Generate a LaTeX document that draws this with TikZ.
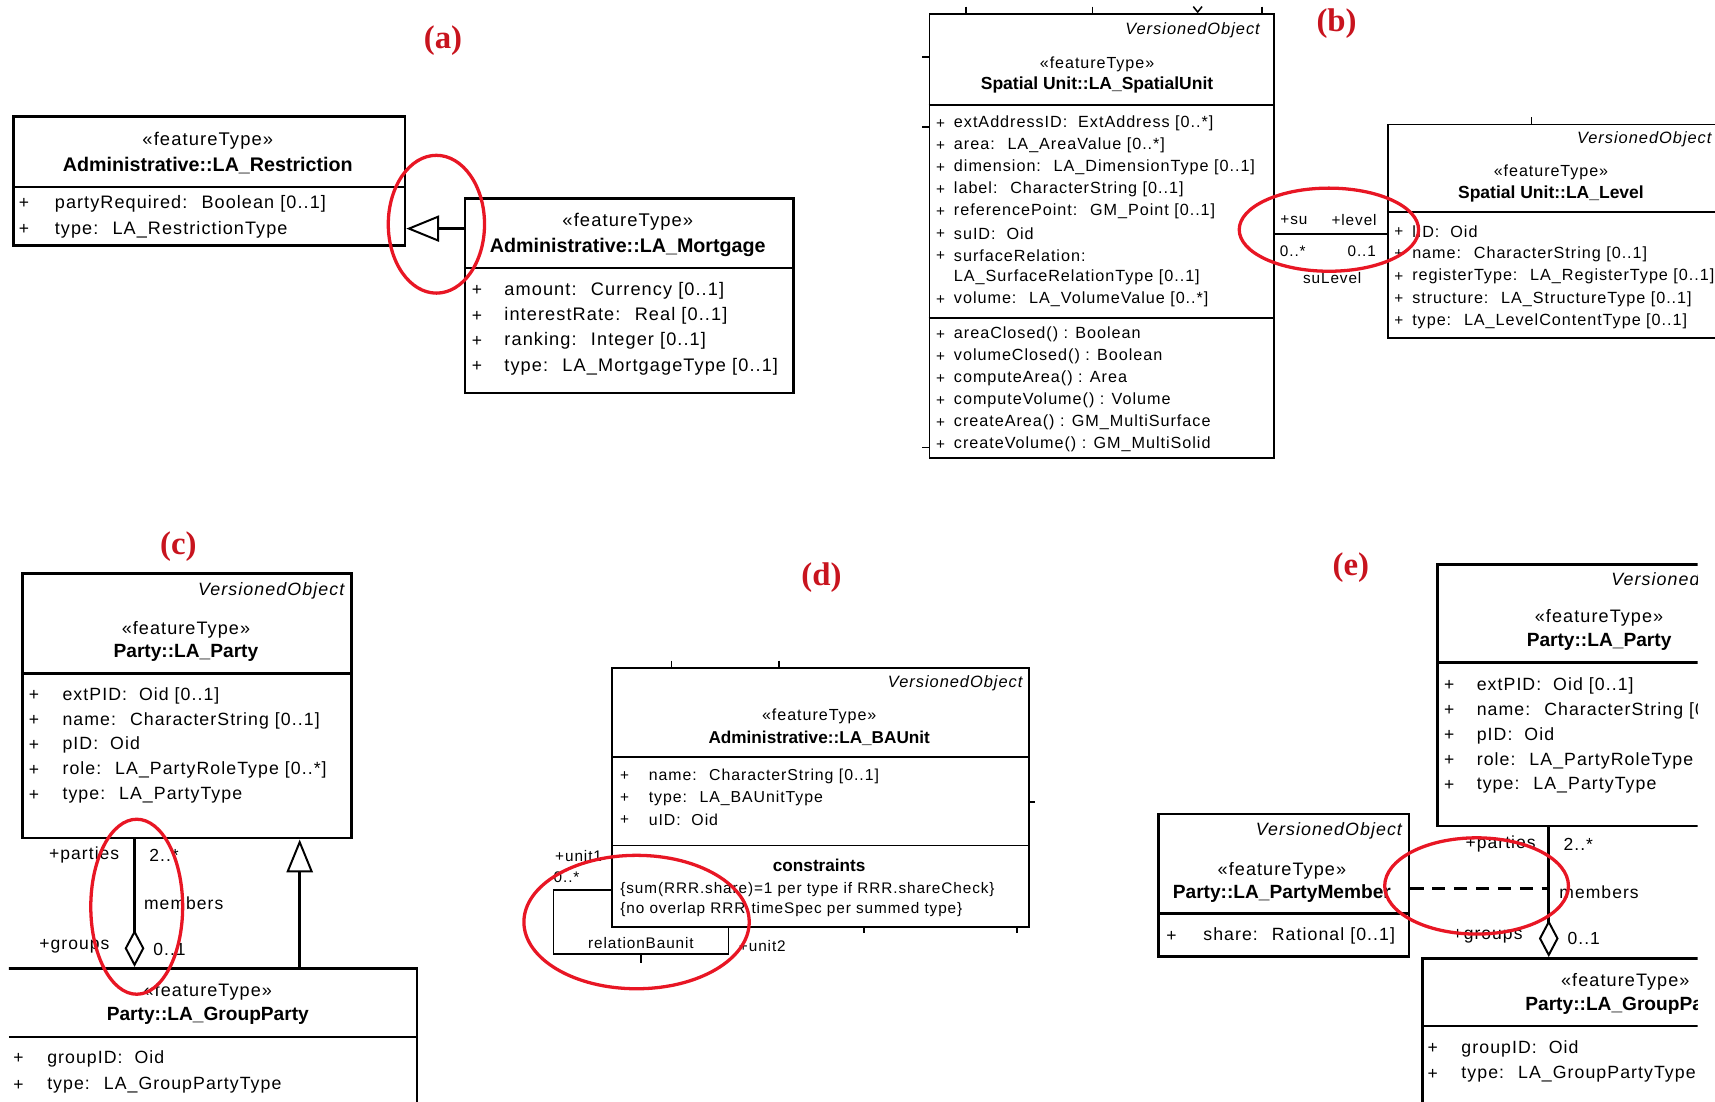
\documentclass[tikz,border=0pt]{standalone}
\usepackage{fontspec}
\setmainfont{Liberation Sans}
\newfontfamily\umlfont[LetterSpace=6]{Liberation Sans}
\newfontfamily\tagfont{Liberation Serif}
\usetikzlibrary{arrows.meta}
\definecolor{tagred}{RGB}{200,20,30}
\definecolor{ringred}{RGB}{232,22,36}

\begin{document}
\begin{tikzpicture}[x=1pt, y=-1pt,
  box/.style={draw, line width=2.5pt, anchor=north west, inner sep=0pt},
  thinbox/.style={box, line width=1.6pt},
  divline/.style={line width=2.5pt},
  thindiv/.style={line width=1.6pt},
  stub/.style={line width=1.4pt},
  plus/.style={inner sep=0pt, font=\umlfont\fontsize{#1}{#1}\selectfont}, plus/.default=16,
  attr/.style={anchor=west, inner sep=0pt, font=\umlfont\fontsize{#1}{#1}\selectfont}, attr/.default=16,
  stereo/.style={inner sep=0pt, font=\umlfont\fontsize{#1}{#1}\selectfont}, stereo/.default=16,
  cname/.style={inner sep=0pt, font=\bfseries\fontsize{#1}{#1}\selectfont}, cname/.default=16,
  vobj/.style={anchor=east, inner sep=0pt, font=\umlfont\itshape\fontsize{#1}{#1}\selectfont}, vobj/.default=16,
  role/.style={inner sep=0pt, font=\umlfont\fontsize{#1}{#1}\selectfont}, role/.default=15,
  tag/.style={text=tagred, font=\tagfont\bfseries\fontsize{30}{30}\selectfont},
  ring/.style={draw=ringred, line width=3pt},
  gen/.style={line width=2.5pt, -{Triangle[open, length=30pt, width=24pt, line width=1.8pt]}},
  aggr/.style={line width=2.5pt, {Diamond[open, length=34pt, width=18pt, line width=1.8pt]}-},
  assoc/.style={line width=2.5pt},
  acl/.style={line width=2.5pt, dash pattern=on 12pt off 8pt},
  selfassoc/.style={line width=1.6pt}]
\useasboundingbox (0,0) rectangle (1568,1007.5);
\clip (0,0) rectangle (1568,1007.5);

% (a) generalization
\node[tag] (taga) at (405,37) {(a)};
\node[box, minimum width=358pt, minimum height=118pt] (restr) at (11,105) {};
\draw[divline] (restr.west |- 0,171) -- (restr.east |- 0,171);
\node[stereo=16.8] (restrst) at (190,129) {«featureType»};
\node[cname=18] (restrnm) at (190,151) {Administrative::LA\_Restriction};
\foreach \lbl [count=\i] in {partyRequired:~ Boolean [0..1], type:~ LA\_RestrictionType}{
  \node[plus=16] (restrp\i) at (22,162+24*\i) {+};
  \node[attr=16.5] (restra\i) at (50,162+24*\i) {\lbl};
}
\node[box, minimum width=300pt, minimum height=178pt] (mort) at (424,180) {};
\draw[divline] (mort.west |- 0,245) -- (mort.east |- 0,245);
\node[stereo=16.8] (mortst) at (574,203) {«featureType»};
\node[cname=18] (mortnm) at (574,226) {Administrative::LA\_Mortgage};
\foreach \lbl [count=\i] in {amount:~ Currency [0..1], interestRate:~ Real [0..1], ranking:~ Integer [0..1], type:~ LA\_MortgageType [0..1]}{
  \node[plus=16] (mortp\i) at (436,243+23*\i) {+};
  \node[attr=16.6] (morta\i) at (461,243+23*\i) {\lbl};
}
\coordinate (gena) at (0,209);
\draw[gen] (mort.west |- gena) -- (restr.east |- gena);
\draw[ring] (399,205) ellipse (44pt and 63pt);

% (b) association su - level
\node[tag] (tagb) at (1222,22) {(b)};
\node[thinbox, minimum width=315pt, minimum height=406pt] (su) at (849,12) {};
\draw[thindiv] (su.west |- 0,96) -- (su.east |- 0,96);
\draw[thindiv] (su.west |- 0,291) -- (su.east |- 0,291);
\foreach \x in {883,999,1154} \draw[stub] (\x,6) -- (\x,12);
\draw[stub] (1091,6) -- (1095,11) -- (1099,6);
\foreach \y in {52,116,409} \draw[stub] (843,\y) -- (849,\y);
\node[vobj=15] (suvo) at (1152,28) {VersionedObject};
\node[stereo=14.7] (sust) at (1003,59) {«featureType»};
\node[cname=16] (sunm) at (1003,78) {Spatial Unit::LA\_SpatialUnit};
\foreach \lbl [count=\i] in {extAddressID:~ ExtAddress [0..*], area:~ LA\_AreaValue [0..*], dimension:~ LA\_DimensionType [0..1], label:~ CharacterString [0..1], referencePoint:~ GM\_Point [0..1], suID:~ Oid, surfaceRelation:, LA\_SurfaceRelationType [0..1], volume:~ LA\_VolumeValue [0..*]}
  \node[attr=14.8] (sua\i) at (872,93+20.1*\i) {\lbl};
\foreach \i in {1,2,3,4,5,6,7,9} \node[plus=14] (sup\i) at (860,93+20.1*\i) {+};
\foreach \lbl [count=\i] in {areaClosed() : Boolean, volumeClosed() : Boolean, computeArea() : Area, computeVolume() : Volume, createArea() : GM\_MultiSurface, createVolume() : GM\_MultiSolid}{
  \node[plus=14] (suop\i) at (860,286+20.1*\i) {+};
  \node[attr=14.8] (suo\i) at (872,286+20.1*\i) {\lbl};
}
\node[thinbox, minimum width=320pt, minimum height=195pt] (lvl) at (1268,113) {};
\draw[thindiv] (lvl.west |- 0,194) -- (lvl.east |- 0,194);
\draw[stub] (1400,107) -- (1400,113);
\node[vobj=15] (lvlvo) at (1565,127) {VersionedObject};
\node[stereo=14.7] (lvlst) at (1418,158) {«featureType»};
\node[cname=16] (lvlnm) at (1418,177) {Spatial Unit::LA\_Level};
\foreach \lbl [count=\i] in {lID:~ Oid, name:~ CharacterString [0..1], registerType:~ LA\_RegisterType [0..1], structure:~ LA\_StructureType [0..1], type:~ LA\_LevelContentType [0..1]}{
  \node[plus=14] (lvlp\i) at (1279,191.5+20.5*\i) {+};
  \node[attr=14.8] (lvla\i) at (1291,191.5+20.5*\i) {\lbl};
}
\coordinate (asb) at (0,214);
\draw[assoc] (su.east |- asb) -- (lvl.west |- asb);
\node[role=14] (rsu) at (1183,201) {+su};
\node[role=14] (rlevel) at (1238,201) {+level};
\node[role=14] (msu) at (1182,230) {0..*};
\node[role=14] (mlevel) at (1245,230) {0..1};
\node[role=14] (nsulevel) at (1218,254) {suLevel};
\draw[ring] (1215,210) ellipse (82pt and 38pt);

% (c) aggregation party - groupparty
\node[tag] (tagc) at (163,500) {(c)};
\node[box, minimum width=301pt, minimum height=242pt] (party) at (19,523) {};
\draw[divline] (party.west |- 0,616) -- (party.east |- 0,616);
\node[vobj=16.3] (partyvo) at (315,540) {VersionedObject};
\node[stereo=16.5] (partyst) at (170,576) {«featureType»};
\node[cname=17.5] (partynm) at (170,597) {Party::LA\_Party};
\foreach \lbl [count=\i] in {extPID:~ Oid [0..1], name:~ CharacterString [0..1], pID:~ Oid, role:~ LA\_PartyRoleType [0..*], type:~ LA\_PartyType}{
  \node[plus=16] (partyp\i) at (31,613.25+22.75*\i) {+};
  \node[attr=16.2] (partya\i) at (57,613.25+22.75*\i) {\lbl};
}
\begin{scope}
\clip (8,870) rectangle (400,1010);
\node[box, minimum width=392pt, minimum height=200pt] (gp) at (-12,884) {};
\end{scope}
\draw[divline] (8,948) -- (gp.east |- 0,948);
\node[stereo=16.5] (gpst) at (190,907) {«featureType»};
\node[cname=17.5] (gpnm) at (190,929) {Party::LA\_GroupParty};
\foreach \lbl [count=\i] in {groupID:~ Oid, type:~ LA\_GroupPartyType}{
  \node[plus=16] (gpp\i) at (17,944+24*\i) {+};
  \node[attr=16.2] (gpa\i) at (43,944+24*\i) {\lbl};
}
\coordinate (aggc) at (123,0);
\coordinate (genc) at (274,0);
\draw[aggr] (gp.north -| aggc) -- (party.south -| aggc);
\draw[gen] (gp.north -| genc) -- (party.south -| genc);
\node[role=16] (rparties) at (77,782) {+parties};
\node[role=16] (mparties) at (150,782) {2..*};
\node[role=16] (nmembers) at (168,826) {members};
\node[role=16] (rgroups) at (68,865) {+groups};
\node[role=16] (mgroups) at (155,868) {0..1};
\draw[ring] (125,829) ellipse (42pt and 80pt);

% (d) self association of baunit
\node[tag] (tagd) at (751,528) {(d)};
\node[thinbox, minimum width=381pt, minimum height=237pt] (bau) at (559,610) {};
\draw[thindiv] (bau.west |- 0,692) -- (bau.east |- 0,692);
\draw[thindiv] (bau.west |- 0,773) -- (bau.east |- 0,773);
\foreach \x in {614,712} \draw[stub] (\x,604) -- (\x,610);
\foreach \x in {790,930} \draw[stub] (\x,847) -- (\x,853);
\draw[stub] (940,733) -- (946,733);
\node[vobj=15] (bauvo) at (935,625) {VersionedObject};
\node[stereo=14.7] (baust) at (749,655) {«featureType»};
\node[cname=15.7] (baunm) at (749,675) {Administrative::LA\_BAUnit};
\foreach \lbl [count=\i] in {name:~ CharacterString [0..1], type:~ LA\_BAUnitType, uID:~ Oid}{
  \node[plus=14] (baup\i) at (571,690+20*\i) {+};
  \node[attr=14.5] (baua\i) at (593,690+20*\i) {\lbl};
}
\node[cname=15.7] (baucn) at (749,791) {constraints};
\node[attr=14] (bauc1) at (567,813) {\{sum(RRR.share)=1 per type if RRR.shareCheck\}};
\node[attr=14] (bauc2) at (567,832) {\{no overlap RRR.timeSpec per summed type\}};
\coordinate (lpa) at (0,814);
\coordinate (lpl) at (506,872);
\coordinate (lpr) at (666,0);
\draw[selfassoc] (bau.west |- lpa) -| (lpl) -| (bau.south -| lpr);
\draw[stub] (586,872) -- (586,880);
\node[role=14] (nrel) at (586,862) {relationBaunit};
\node[role=14] (runit1) at (529,783) {+unit1};
\node[role=14] (munit1) at (518,802) {0..*};
\node[role=14] (runit2) at (697,865) {+unit2};
\draw[ring] (582,843) ellipse (103pt and 61pt);

% (e) association class partymember
\node[tag] (tage) at (1235,519) {(e)};
\begin{scope}
\clip (1040,500) rectangle (1552,1010);
\node[box, minimum width=298pt, minimum height=239pt] (party2) at (1313,515) {};
\draw[divline] (party2.west |- 0,606) -- (party2.east |- 0,606);
\node[vobj=16.3] (party2vo) at (1607,531) {VersionedObject};
\node[stereo=16.5] (party2st) at (1462,565) {«featureType»};
\node[cname=17.5] (party2nm) at (1462,587) {Party::LA\_Party};
\foreach \lbl [count=\i] in {extPID:~ Oid [0..1], name:~ CharacterString [0..1], pID:~ Oid, role:~ LA\_PartyRoleType [0..*], type:~ LA\_PartyType}{
  \node[plus=16] (party2p\i) at (1325,604.25+22.75*\i) {+};
  \node[attr=16.2] (party2a\i) at (1350,604.25+22.75*\i) {\lbl};
}
\node[box, minimum width=372pt, minimum height=200pt] (gp2) at (1299,875) {};
\draw[divline] (gp2.west |- 0,938) -- (gp2.east |- 0,938);
\node[stereo=16.5] (gp2st) at (1486,898) {«featureType»};
\node[cname=17.5] (gp2nm) at (1487,920) {Party::LA\_GroupParty};
\foreach \lbl [count=\i] in {groupID:~ Oid, type:~ LA\_GroupPartyType}{
  \node[plus=16] (gp2p\i) at (1310,936+23*\i) {+};
  \node[attr=16.2] (gp2a\i) at (1336,936+23*\i) {\lbl};
}
\end{scope}
\node[box, minimum width=229pt, minimum height=130pt] (pm) at (1058,743) {};
\draw[divline] (pm.west |- 0,835) -- (pm.east |- 0,835);
\node[vobj=16.3] (pmvo) at (1282,760) {VersionedObject};
\node[stereo=16.5] (pmst) at (1172,796) {«featureType»};
\node[cname=17.5] (pmnm) at (1172,817) {Party::LA\_PartyMember};
\node[plus=16] (pmp1) at (1071,856) {+};
\node[attr=16.2] (pma1) at (1100,856) {share:~ Rational [0..1]};
\coordinate (agge) at (1416,0);
\coordinate (acy) at (0,812);
\draw[aggr] (gp2.north -| agge) -- (party2.south -| agge);
\draw[acl] (pm.east |- acy) -- (agge |- acy);
\node[role=16] (rparties2) at (1372,772) {+parties};
\node[role=16] (mparties2) at (1443,772) {2..*};
\node[role=16] (nmembers2) at (1462,816) {members};
\node[role=16] (rgroups2) at (1360,856) {+groups};
\node[role=16] (mgroups2) at (1448,858) {0..1};
\draw[ring] (1350,810) ellipse (84pt and 44pt);
\end{tikzpicture}
\end{document}
